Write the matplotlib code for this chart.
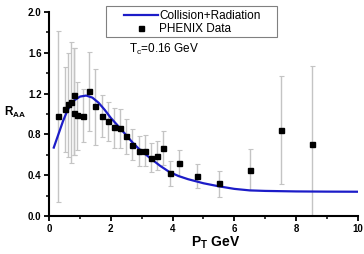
import matplotlib.pyplot as plt
from matplotlib.ticker import MultipleLocator

# -------------------------
# Data
# -------------------------
pt = [0.3, 0.5, 0.6, 0.7, 0.8, 0.8, 0.9, 1.1, 1.3, 1.5, 1.7, 1.9, 2.1, 2.3,
      2.5, 2.7, 2.9, 3.1, 3.3, 3.5, 3.7, 3.9, 4.2, 4.8, 5.5, 6.5, 7.5, 8.5]
raa = [0.98, 1.05, 1.10, 1.12, 1.19, 1.01, 0.99, 0.98, 1.22, 1.08, 0.98, 0.93, 0.87, 0.86,
       0.78, 0.70, 0.64, 0.64, 0.57, 0.59, 0.665, 0.42, 0.52, 0.39, 0.32, 0.45, 0.84, 0.705]
err_hi = [1.81, 1.46, 1.60, 1.71, 1.65, 1.65, 1.31, 1.24, 1.61, 1.44, 1.19, 1.12, 1.06, 1.05,
          0.95, 0.85, 0.78, 0.79, 0.71, 0.73, 0.83, 0.54, 0.65, 0.51, 0.44, 0.66, 1.37, 1.47]
err_lo = [0.14, 0.63, 0.58, 0.52, 0.60, 0.60, 0.65, 0.72, 0.83, 0.70, 0.77, 0.73, 0.67, 0.67,
          0.61, 0.55, 0.49, 0.49, 0.43, 0.45, 0.50, 0.29, 0.39, 0.27, 0.19, 0.25, 0.31, 0.0]

curve_x = [0.15, 0.3, 0.45, 0.6, 0.8, 1.0, 1.2, 1.4, 1.6, 1.8, 2.0, 2.3, 2.5, 2.7,
           2.9, 3.1, 3.3, 3.6, 3.9, 4.2, 4.5, 5.0, 5.5, 6.0, 6.5, 7.0, 8.0, 9.0, 10.0]
curve_y = [0.67, 0.80, 0.93, 1.04, 1.13, 1.17, 1.18, 1.16, 1.11, 1.04, 0.96, 0.86, 0.79, 0.72,
           0.66, 0.61, 0.56, 0.49, 0.43, 0.39, 0.36, 0.32, 0.29, 0.265, 0.25, 0.245, 0.24, 0.238, 0.237]

yerr = [[v - lo for v, lo in zip(raa, err_lo)], [hi - v for v, hi in zip(raa, err_hi)]]

# -------------------------
# Plot
# -------------------------
plt.rcParams['font.family'] = ['Liberation Sans', 'DejaVu Sans']

fig = plt.figure(figsize=(3.64, 2.54), dpi=100)
ax = fig.add_axes([0.135, 0.15, 0.848, 0.803])

ax.errorbar(pt, raa, yerr=yerr, fmt='none', ecolor='#c4c4c4', elinewidth=1.0,
            capsize=1.8, capthick=0.8, zorder=1)
ax.plot(pt, raa, 's', color='black', markersize=3.6, label='PHENIX Data', zorder=3)
ax.plot(curve_x, curve_y, color='#1c1cc8', linewidth=1.6, label='Collision+Radiation', zorder=2)

ax.set_xlim(0, 10)
ax.set_ylim(0, 2.0)
ax.xaxis.set_major_locator(MultipleLocator(2))
ax.xaxis.set_minor_locator(MultipleLocator(1))
ax.yaxis.set_major_locator(MultipleLocator(0.4))
ax.yaxis.set_minor_locator(MultipleLocator(0.2))
ax.yaxis.set_major_formatter(plt.FuncFormatter(lambda v, p: f"{v:.1f}"))

for s in ['top', 'right']:
    ax.spines[s].set_visible(False)
for s in ['left', 'bottom']:
    ax.spines[s].set_linewidth(1.5)

ax.tick_params(which='major', direction='out', length=3.5, width=1.3, labelsize=7, pad=2)
ax.tick_params(which='minor', direction='out', length=2, width=1.1)
for lbl in ax.get_xticklabels() + ax.get_yticklabels():
    lbl.set_fontweight('bold')

ax.set_xlabel(r'P$_\mathregular{T}$ GeV', fontsize=10, fontweight='bold')
ax.xaxis.set_label_coords(0.54, -0.09)
ax.set_ylabel(r'R$_\mathregular{AA}$', fontsize=8.5, fontweight='bold', rotation=0,
              ha='center', va='center')
ax.yaxis.set_label_coords(-0.11, 0.505)

ax.text(2.6, 1.6, r'T$_\mathregular{c}$=0.16 GeV', fontsize=8.5)

# legend box drawn separately (Origin style, wide left margin)
box = plt.Rectangle((0.291, 0.854), 0.470, 0.122, transform=fig.transFigure,
                    facecolor='white', edgecolor='#808080', linewidth=0.8, zorder=5)
fig.patches.append(box)

handles, labels = ax.get_legend_handles_labels()
leg = fig.legend(handles[::-1], labels[::-1], loc='upper left', bbox_to_anchor=(0.336, 0.967),
                 fontsize=8.5, frameon=False, borderpad=0.15, labelspacing=0.1,
                 handlelength=2.9, handletextpad=0.1, borderaxespad=0)
leg.set_zorder(6)

plt.savefig("out.png", dpi=100)
